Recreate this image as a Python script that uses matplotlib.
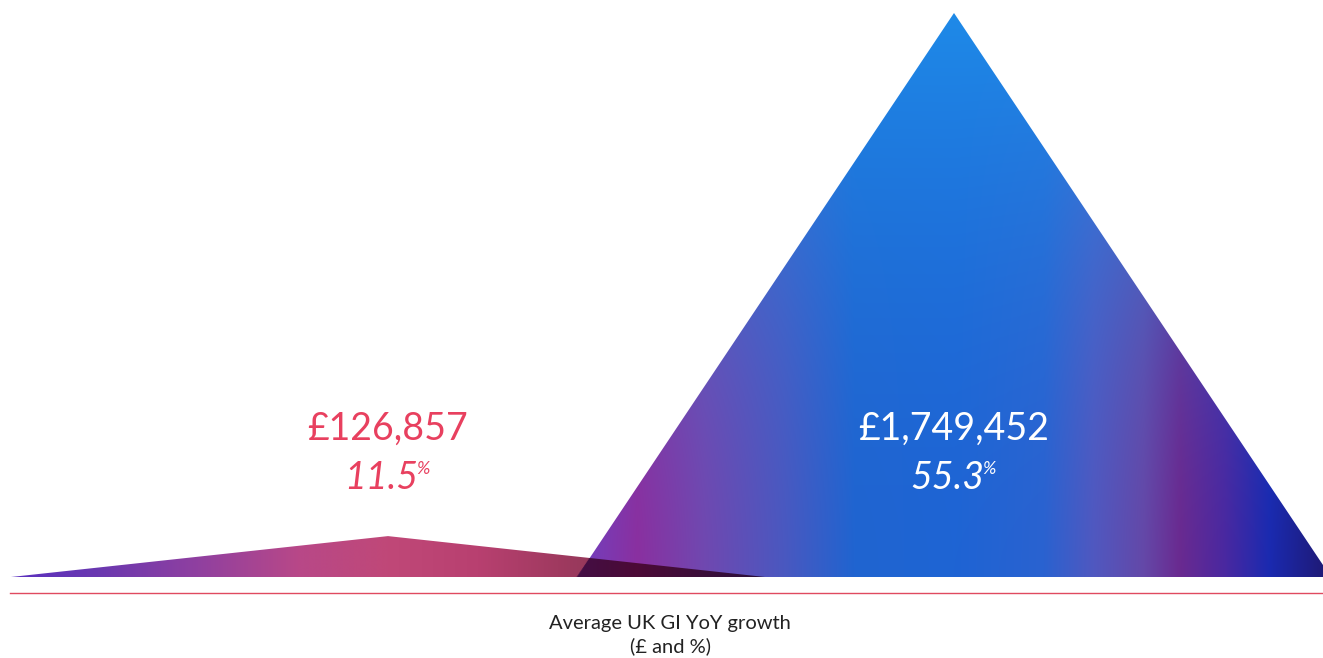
import matplotlib
matplotlib.use("Agg")
import matplotlib.pyplot as plt
import numpy as np
from matplotlib.colors import to_rgb
from matplotlib.patches import Polygon

# values shown on the two peaks
labels = ["£126,857", "£1,749,452"]
values = [126857, 1749452]
growth = ["11.5", "55.3"]
label_colors = ["#e8405f", "#ffffff"]
caption = "Average UK GI YoY growth\n(£ and %)"

W, H = 1323, 658
centers = [388, 954]
half_w = 377
base_px = 81     # baseline height above bottom edge (px)
peak_px = 564    # height of the tallest peak (px)

fig = plt.figure(figsize=(W / 100, H / 100), dpi=100)
ax = fig.add_axes([0, 0, 1, 1])
units = max(values) / peak_px
ax.axis("off")

# colour ramps (offset from the peak centre, colour)
big_stops = [(-377, "#7040c0"), (-317, "#8a30a0"), (-250, "#7048b0"),
             (-170, "#4a58c0"), (-100, "#2064d0"), (0, "#1e64d4"),
             (90, "#2a62d0"), (140, "#5058c0"), (190, "#6448a8"),
             (226, "#6a2a90"), (271, "#4a28a0"), (316, "#1a2ab0"),
             (377, "#201870")]
small_stops = [(-378, "#5a30c0"), (-290, "#6a38b0"), (-190, "#9040a0"),
               (-90, "#b84888"), (0, "#c04878"), (90, "#b84070"),
               (170, "#a03a60"), (220, "#903858"), (377, "#802f50")]
top_blue = np.array(to_rgb("#1e8ae8"))


def ramp(stops, x):
    xs = [s[0] for s in stops]
    cols = np.array([to_rgb(s[1]) for s in stops])
    return np.stack([np.interp(x, xs, cols[:, i]) for i in range(3)], axis=-1)


def big_color(X, Y):
    t = np.clip(Y / values[1], 0, 1)[..., None]
    c = ramp(big_stops, X - centers[1])
    w = t ** 2
    return c * (1 - w) + top_blue * w


def big_height(X):
    return values[1] * np.clip(1 - np.abs(X - centers[1]) / half_w, 0, None)


# big peak first, small one on top with multiply where they overlap
for i in [1, 0]:
    c, v = centers[i], values[i]
    x0, x1 = c - half_w, c + half_w
    nx, ny = 800, 400
    X, Y = np.meshgrid(np.linspace(x0, x1, nx), np.linspace(0, v, ny))
    if i == 1:
        img = big_color(X, Y)
    else:
        img = ramp(small_stops, X - c)
        inside = (Y < big_height(X))[..., None]
        img = np.where(inside, img * big_color(X, Y), img)
    tri = Polygon([[x0, 0], [c, v], [x1, 0]], closed=True,
                  transform=ax.transData, facecolor="none", edgecolor="none")
    ax.add_patch(tri)
    im = ax.imshow(img, extent=(x0, x1, 0, v), origin="lower",
                   aspect="auto", interpolation="bilinear", zorder=2)
    im.set_clip_path(tri)

ax.set_xlim(0, W)
ax.set_ylim(-base_px * units, (H - base_px) * units)

# value labels
tr = ax.get_xaxis_transform()
for i in range(2):
    ax.text(centers[i], 1 - 429 / H, labels[i], transform=tr, ha="center",
            va="center", fontsize=27, color=label_colors[i],
            family="Lato", zorder=5)
    g = ax.text(centers[i] - 7, 1 - 478 / H, growth[i], transform=tr,
                ha="center", va="center", fontsize=27, style="italic",
                color=label_colors[i], family="Lato", zorder=5)
    ax.annotate("%", xy=(1, 1), xycoords=g, xytext=(-1, -1),
                textcoords="offset points", ha="left", va="top",
                fontsize=13, style="italic", color=label_colors[i],
                family="Lato", zorder=5)

# red baseline rule
ax.plot([10, W], [1 - 593 / H] * 2, transform=tr, color="#e04a60",
        lw=1, zorder=3, clip_on=False)

ax.text(670, 1 - 635 / H, caption, transform=tr, ha="center", va="center",
        fontsize=14.5, color="#222222", linespacing=1.4, family="Lato")

fig.savefig("out.png", dpi=100)
